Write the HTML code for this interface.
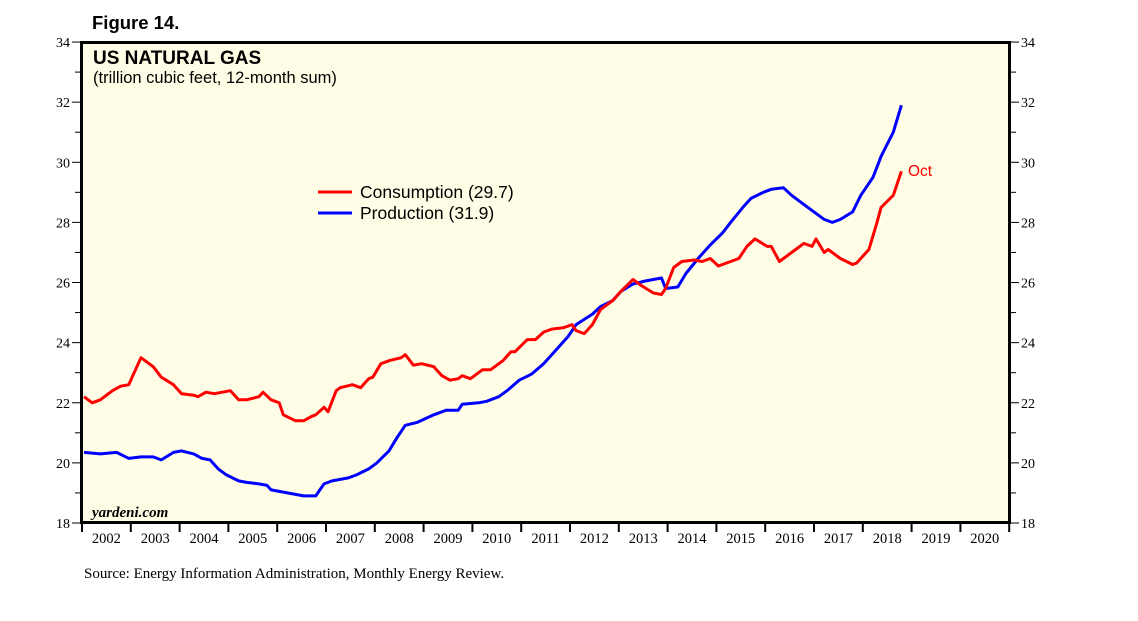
<!DOCTYPE html>
<html><head><meta charset="utf-8"><style>
body{margin:0;background:#fff;width:1138px;height:621px;overflow:hidden}
svg{display:block}
</style></head><body>
<svg id="chart" width="1138" height="621" xmlns="http://www.w3.org/2000/svg">
<text x="92" y="29" font-family="Liberation Sans, sans-serif" font-weight="bold" font-size="18.5">Figure 14.</text>
<rect x="81.5" y="42.5" width="928" height="480" fill="#fffde6" stroke="#000" stroke-width="3"/>
<text x="93" y="64" font-family="Liberation Sans, sans-serif" font-weight="bold" font-size="19">US NATURAL GAS</text>
<text x="93" y="83" font-family="Liberation Sans, sans-serif" font-size="16.5">(trillion cubic feet, 12-month sum)</text>
<text x="92" y="517" font-family="Liberation Serif, serif" font-style="italic" font-weight="bold" font-size="15">yardeni.com</text>
<text x="84" y="578" font-family="Liberation Serif, serif" font-size="15">Source: Energy Information Administration, Monthly Energy Review.</text>
<g id="axes"></g>
<g id="series"></g>
<g>
<line x1="318" y1="192" x2="352" y2="192" stroke="#f00" stroke-width="3"/>
<text x="360" y="198" font-family="Liberation Sans, sans-serif" font-size="17.5">Consumption (29.7)</text>
<line x1="318" y1="213" x2="352" y2="213" stroke="#00f" stroke-width="3"/>
<text x="360" y="219" font-family="Liberation Sans, sans-serif" font-size="17.5">Production (31.9)</text>
</g>
<text x="908" y="176" fill="#f00" font-family="Liberation Sans, sans-serif" font-size="15.5">Oct</text>
</svg>
<script>
// months since Jan 2002
const consMonths=[0,2,4,7,9,11,12,14,17,19,22,24,27,28,30,32,34,36,38,40,43,44,46,48,49,52,54,56,57,59,60,62,63,66,68,70,71,73,75,78,79,81,83,86,88,90,92,93,95,98,100,103,105,106,109,111,113,115,118,120,121,123,125,127,130,132,135,137,140,142,143,145,147,150,152,154,156,157,161,163,165,168,169,171,174,177,179,180,182,183,186,189,190,193,195,196,199,201];
const consValues=[22.2,22.0,22.1,22.4,22.55,22.6,22.9,23.5,23.2,22.85,22.6,22.3,22.25,22.2,22.35,22.3,22.35,22.4,22.1,22.1,22.2,22.35,22.1,22.0,21.6,21.4,21.4,21.55,21.6,21.85,21.7,22.4,22.5,22.6,22.5,22.8,22.85,23.3,23.4,23.5,23.6,23.25,23.3,23.2,22.9,22.75,22.8,22.9,22.8,23.1,23.1,23.4,23.7,23.7,24.1,24.1,24.35,24.45,24.5,24.6,24.4,24.3,24.6,25.1,25.4,25.7,26.1,25.9,25.65,25.6,25.8,26.5,26.7,26.75,26.7,26.8,26.55,26.6,26.8,27.2,27.45,27.2,27.2,26.7,27.0,27.3,27.2,27.45,27.0,27.1,26.8,26.6,26.65,27.1,28.0,28.5,28.9,29.7];
const prodMonths=[0,4,8,11,14,17,19,22,24,27,29,31,33,35,38,40,43,45,46,50,54,57,59,61,65,67,70,72,75,77,79,82,86,89,92,93,97,99,102,104,107,110,113,116,119,121,125,127,130,132,135,138,142,143,146,148,151,154,157,159,162,164,167,169,172,174,177,179,182,184,186,189,191,194,196,199,201];
const prodValues=[20.35,20.3,20.35,20.15,20.2,20.2,20.1,20.35,20.4,20.3,20.15,20.1,19.8,19.6,19.4,19.35,19.3,19.25,19.1,19.0,18.9,18.9,19.3,19.4,19.5,19.6,19.8,20.0,20.4,20.85,21.25,21.35,21.6,21.75,21.75,21.95,22.0,22.05,22.2,22.4,22.75,22.95,23.3,23.75,24.2,24.6,24.95,25.2,25.4,25.7,25.95,26.05,26.15,25.8,25.85,26.3,26.8,27.25,27.65,28.0,28.5,28.8,29.0,29.1,29.15,28.9,28.6,28.4,28.1,28.0,28.1,28.35,28.9,29.5,30.2,31.0,31.9];
const yearLabels=[2002,2003,2004,2005,2006,2007,2008,2009,2010,2011,2012,2013,2014,2015,2016,2017,2018,2019,2020];
const yTicks=[18,20,22,24,26,28,30,32,34];

const NS='http://www.w3.org/2000/svg';
const X0=82,PXM=48.8/12,Y0=523,PXU=30.06;
const xs=m=>X0+(m+0.5)*PXM;
const xy=y=>X0+(y-2002)*48.8;
const ys=v=>Y0-(v-18)*PXU;
function mk(t,a){const e=document.createElementNS(NS,t);for(const k in a)e.setAttribute(k,a[k]);return e;}
const axes=document.getElementById('axes');
for(let v=18;v<=34;v++){
  const y=ys(v),major=v%2===0,len=major?8:5;
  const l=mk('line',{x1:80-len,y1:y,x2:80,y2:y,stroke:'#000','stroke-width':1});
  
  
  axes.appendChild(l);
  const r=mk('line',{x1:1011,y1:y,x2:1011+len,y2:y,stroke:'#000','stroke-width':1});
  
  
  axes.appendChild(r);
}
yTicks.forEach(v=>{
  const t=mk('text',{x:70,y:ys(v)+5,'text-anchor':'end','font-family':'Liberation Serif, serif','font-size':14});
  t.textContent=v;
  
  
  axes.appendChild(t);
  const t2=mk('text',{x:1021,y:ys(v)+5,'font-family':'Liberation Serif, serif','font-size':14});
  t2.textContent=v;
  
  
  axes.appendChild(t2);
});
yearLabels.forEach(yr=>{
  const x=xy(yr);
  const tk=mk('line',{x1:x,y1:523,x2:x,y2:532,stroke:'#000','stroke-width':2});
  
  
  axes.appendChild(tk);
  const t=mk('text',{x:x+24.4,y:543,'text-anchor':'middle','font-family':'Liberation Serif, serif','font-size':14.5});
  t.textContent=yr;
  
  
  axes.appendChild(t);
});
const last=mk('line',{x1:xy(2021),y1:523,x2:xy(2021),y2:532,stroke:'#000','stroke-width':2});


axes.appendChild(last);
const ser=document.getElementById('series');
function line(ms,vs,col,name){
  const d=ms.map((m,i)=>(i?'L':'M')+xs(m).toFixed(1)+','+ys(vs[i]).toFixed(1)).join('');
  const p=mk('path',{d:d,fill:'none',stroke:col,'stroke-width':3,'stroke-linejoin':'round'});
  
  
  ser.appendChild(p);
}
line(prodMonths,prodValues,'#00f','production-line');
line(consMonths,consValues,'#f00','consumption-line');
</script>
</body></html>
